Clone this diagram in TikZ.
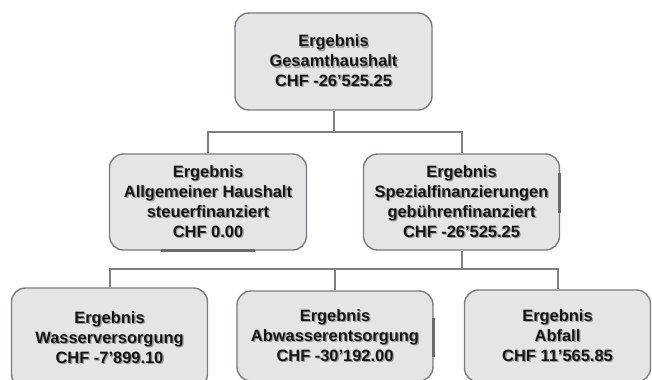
\documentclass[tikz,border=0pt]{standalone}
\usepackage{fontspec}
\setmainfont{Liberation Sans}
\definecolor{shadowcol}{HTML}{9A9A9C}
\newcommand\shl[1]{\makebox[0pt][l]{\hspace{1.3bp}\raisebox{-1.3bp}{\color{shadowcol}#1}}#1}
\begin{document}
\begin{tikzpicture}[x=1bp,y=-1bp,
  box/.style={draw=boxline, fill=boxfill, line width=1.4bp, rounded corners=14bp,
    align=center, text=textcol, inner sep=0pt,
    font=\bfseries\fontsize{16.5}{20}\selectfont},
  conn/.style={draw=connline, line width=2bp},
  artifact/.style={draw=darkbar, line width=3bp}]
\definecolor{boxline}{HTML}{7A7A7C}
\definecolor{boxfill}{HTML}{E4E5E7}
\definecolor{textcol}{HTML}{151515}
\definecolor{connline}{HTML}{7E7E80}
\definecolor{darkbar}{HTML}{6A6A6C}
\useasboundingbox (0,0) rectangle (652,379);
\clip (0,0) rectangle (652,379);
\fill[white] (0,0) rectangle (652,379);

\node[box, minimum width=197bp, minimum height=97bp] (top) at (333.5,61.5)
  {\shl{Ergebnis}\\\shl{Gesamthaushalt}\\\shl{CHF -26’525.25}};
\node[box, minimum width=197bp, minimum height=96bp] (ml) at (208,202)
  {\shl{Ergebnis}\\\shl{Allgemeiner Haushalt}\\\shl{steuerfinanziert}\\\shl{CHF 0.00}};
\node[box, minimum width=196bp, minimum height=96bp] (mr) at (461.5,202)
  {\shl{Ergebnis}\\\shl{Spezialfinanzierungen}\\\shl{gebührenfinanziert}\\\shl{CHF -26’525.25}};
\node[box, minimum width=196bp, minimum height=100bp] (bl) at (109.5,338)
  {\shl{Ergebnis}\\\shl{Wasserversorgung}\\\shl{CHF -7’899.10}};
\node[box, minimum width=196bp, minimum height=90bp] (bm) at (335,336)
  {\shl{Ergebnis}\\\shl{Abwasserentsorgung}\\\shl{CHF -30’192.00}};
\node[box, minimum width=186bp, minimum height=92bp] (br) at (557.5,336)
  {\shl{Ergebnis}\\\shl{Abfall}\\\shl{CHF 11’565.85}};

% thick edge artifacts
\draw[artifact] (161,250) -- (255,250);
\draw[artifact] (559.5,173) -- (559.5,213);
\draw[artifact] (433,318) -- (433,357);

\coordinate (j1) at (333.5,132);
\coordinate (j2) at (461.5,269);
\draw[conn] (top.south) -- (j1);
\draw[conn] (ml.north) |- (j1) -| (mr.north);
\draw[conn] (mr.south) -- (j2);
\draw[conn] (bl.north) |- (j2) -| (br.north);
\draw[conn] (bm.north) -- (bm.north |- j2);
\end{tikzpicture}
\end{document}
